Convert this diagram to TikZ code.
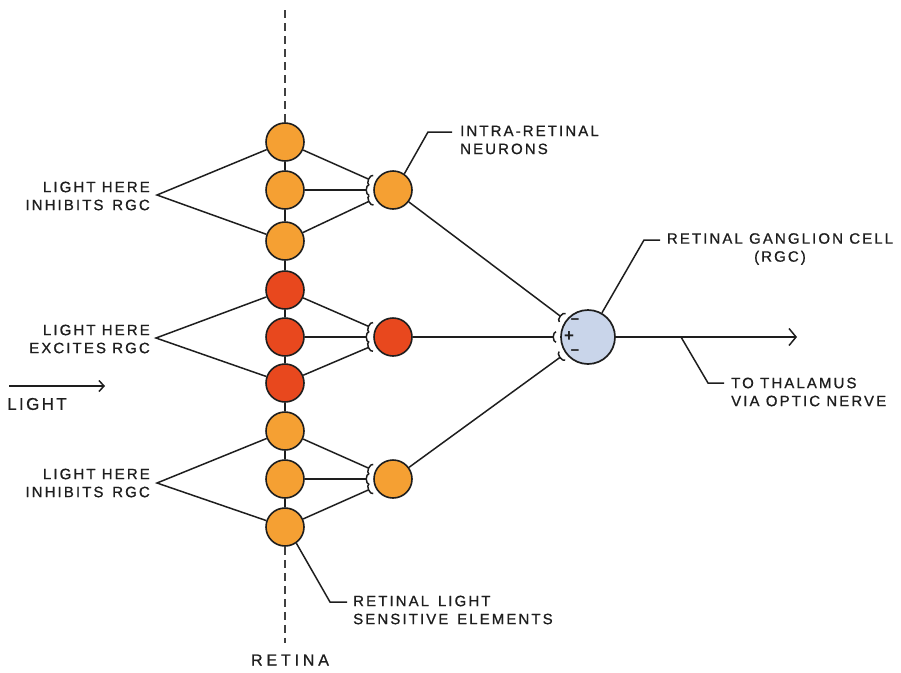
\documentclass[tikz,border=0pt]{standalone}
\usepackage{fontspec}
\setmainfont{Liberation Sans}
\newfontfamily\lblfont[LetterSpace=14, FakeBold=0.9]{Liberation Sans}
\newfontfamily\retfont[LetterSpace=24, FakeBold=0.9]{Liberation Sans}
\usetikzlibrary{arrows.meta,calc}
\definecolor{orangec}{HTML}{F5A033}
\definecolor{redc}{HTML}{E8481E}
\definecolor{bluec}{HTML}{C9D5EA}
\definecolor{inkc}{HTML}{1E1E1E}
\begin{document}
\begin{tikzpicture}[x=1pt,y=-1pt,
  cell/.style={circle, draw=inkc, line width=1.6pt, minimum size=38pt, inner sep=0pt, fill=orangec},
  redcell/.style={cell, fill=redc},
  gcell/.style={circle, draw=inkc, line width=1.7pt, minimum size=54pt, inner sep=0pt, fill=bluec},
  conn/.style={draw=inkc, line width=1.5pt},
  syn/.style={conn, -{Arc Barb[reversed,length=3.5pt,width=12pt]}},
  dashline/.style={draw=inkc!85, line width=2.4pt, dash pattern=on 8pt off 5pt},
  sign/.style={inner sep=0pt, text=inkc, font=\fontsize{15}{15}\selectfont\bfseries},
  lbl/.style={font=\lblfont\fontsize{15}{18}\selectfont, inner sep=0pt, text=inkc}]
\useasboundingbox (0,0) rectangle (901,672);
% retina column
\node[cell] (c1) at (285,142) {};
\node[cell] (c2) at (285,190) {};
\node[cell] (c3) at (285,241) {};
\node[redcell] (c4) at (285,290) {};
\node[redcell] (c5) at (285,337) {};
\node[redcell] (c6) at (285,383) {};
\node[cell] (c7) at (285,431) {};
\node[cell] (c8) at (285,479) {};
\node[cell] (c9) at (285,527) {};
\foreach \a/\b in {c1/c2,c2/c3,c3/c4,c4/c5,c5/c6,c6/c7,c7/c8,c8/c9}
  \draw[conn] (\a) -- (\b);
\coordinate (rt) at (285,10);
\coordinate (rb) at (285,643);
\draw[dashline] (rt) -- (c1);
\draw[dashline] (c9) -- (rb);
% intra-retinal neurons
\node[cell] (n1) at (393,190) {};
\node[redcell] (n2) at (393,337) {};
\node[cell] (n3) at (393,479) {};
% ganglion cell
\node[gcell] (rgc) at (588,337) {};
\node[sign] (mneg1) at (575,322) {−};
\node[sign, font=\fontsize{17}{17}\selectfont\bfseries] (mpos) at (569,337) {+};
\node[sign] (mneg2) at (575,353) {−};
% retina -> neurons
\draw[syn] (c1) -- ($(n1)!24pt!(c1)$);
\draw[syn] (c2) -- ($(n1)!24pt!(c2)$);
\draw[syn] (c3) -- ($(n1)!24pt!(c3)$);
\draw[syn] (c4) -- ($(n2)!24pt!(c4)$);
\draw[syn] (c5) -- ($(n2)!24pt!(c5)$);
\draw[syn] (c6) -- ($(n2)!24pt!(c6)$);
\draw[syn] (c7) -- ($(n3)!24pt!(c7)$);
\draw[syn] (c8) -- ($(n3)!24pt!(c8)$);
\draw[syn] (c9) -- ($(n3)!24pt!(c9)$);
% neurons -> rgc
\draw[syn] (n1) -- ($(rgc)!32pt!(n1)$);
\draw[syn] (n2) -- ($(rgc)!32pt!(n2)$);
\draw[syn] (n3) -- ($(rgc)!32pt!(n3)$);
% output
\coordinate (out) at (797,337);
\draw[conn, -{Straight Barb[length=7pt,width=17pt,line width=1.5pt]}] (rgc) -- (out);
% left labels
\node[lbl, anchor=east, align=right] (l1) at (150,196) {LIGHT HERE\\INHIBITS\, RGC};
\node[lbl, anchor=east, align=right] (l2) at (150,339) {LIGHT HERE\\EXCITES RGC};
\node[lbl, anchor=east, align=right] (l3) at (150,483) {LIGHT HERE\\INHIBITS\, RGC};
\coordinate (a1) at (157,195);
\coordinate (a2) at (156,338);
\coordinate (a3) at (157,483);
\draw[conn] (c1) -- (a1) -- (c3);
\draw[conn] (c4) -- (a2) -- (c6);
\draw[conn] (c7) -- (a3) -- (c9);
% light arrow
\coordinate (la0) at (9,386);
\coordinate (la1) at (105,386);
\draw[conn, -{Straight Barb[length=5pt,width=11pt,line width=1.5pt]}] (la0) -- (la1);
\node[lbl, anchor=west, font=\lblfont\fontsize{17}{17}\selectfont] (light) at (7,404) {LIGHT};
% intra-retinal label
\coordinate (ir1) at (428,132);
\coordinate (ir2) at (452,132);
\draw[conn] (n1.55) -- (ir1) -- (ir2);
\node[lbl, anchor=west, align=left] (irl) at (460,140) {INTRA-RETINAL\\NEURONS};
% RGC label
\coordinate (g1) at (644,240);
\coordinate (g2) at (660,240);
\draw[conn] (rgc.60) -- (g1) -- (g2);
\node[lbl, anchor=north, align=center] (gl) at (780,233) {RETINAL GANGLION CELL\\(RGC)};
% thalamus label
\coordinate (t0) at (681,337);
\coordinate (t1) at (708,383);
\coordinate (t2) at (724,383);
\draw[conn] (t0) -- (t1) -- (t2);
\node[lbl, anchor=west, align=left] (tl) at (731,392) {TO THALAMUS\\VIA OPTIC NERVE};
% retinal light sensitive elements
\coordinate (r1) at (330,602);
\coordinate (r2) at (347,602);
\draw[conn] (c9.-55) -- (r1) -- (r2);
\node[lbl, anchor=west, align=left] (rl) at (353,610) {RETINAL\, LIGHT\\SENSITIVE\, ELEMENTS};
% retina label
\node[lbl, font=\retfont\fontsize{16}{16}\selectfont] (ret) at (290,660) {RETINA};
\end{tikzpicture}
\end{document}
